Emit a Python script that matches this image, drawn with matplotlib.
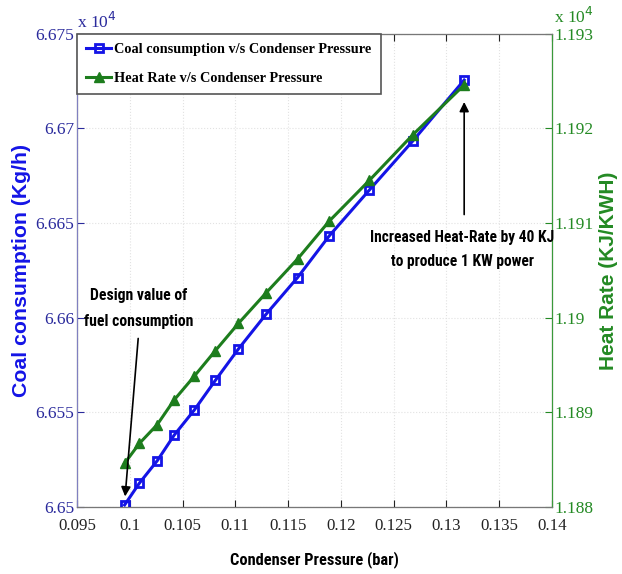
import numpy as np
import matplotlib
matplotlib.use("Agg")
from matplotlib import pyplot as plt
from matplotlib.ticker import FixedLocator, FuncFormatter

# condenser pressure (bar)
pressure = [0.0995, 0.1009, 0.1026, 0.1042, 0.1061, 0.1081, 0.1103,
            0.1129, 0.1159, 0.1189, 0.1227, 0.1268, 0.1317]
# coal consumption (kg/h)
coal = [66501, 66512.5, 66524.4, 66537.9, 66551.1, 66566.8, 66583.5,
        66601.7, 66621.2, 66643.2, 66667.4, 66693.2, 66725.6]
# heat rate (kJ/kWh)
heat_rate = [11884.6, 11886.7, 11888.7, 11891.3, 11893.8, 11896.5, 11899.4,
             11902.6, 11906.2, 11910.2, 11914.5, 11919.3, 11924.6]

x_ticks = [0.095, 0.1, 0.105, 0.11, 0.115, 0.12, 0.125, 0.13, 0.135, 0.14]
coal_ticks = [66500, 66550, 66600, 66650, 66700, 66750]
hr_ticks = [11880, 11890, 11900, 11910, 11920, 11930]

blue = "#1414e6"
green = "#1d7d1d"
tick_blue = "#2a2a9c"
tick_green = "#248a24"
serif = ["Liberation Serif", "DejaVu Serif"]
narrow = ["Roboto Condensed", "Liberation Sans Narrow", "Roboto", "DejaVu Sans"]
sans = ["Liberation Sans", "DejaVu Sans"]

plt.rcParams['xtick.direction'] = 'in'
plt.rcParams['ytick.direction'] = 'in'

fig = plt.figure(figsize=(6.22, 5.74), dpi=100)
ax1 = fig.add_axes([0.124, 0.117, 0.763, 0.824])
ax2 = ax1.twinx()

l1, = ax1.plot(pressure, coal, color=blue, lw=2.2, marker='s', ms=6,
               mfc='none', mew=2, label='Coal consumption v/s Condenser Pressure')
l2, = ax2.plot(pressure, heat_rate, color=green, lw=2.2, marker='^', ms=6.5,
               mfc=green, mec=green, label='Heat Rate v/s Condenser Pressure')

ax1.set_xlim(0.095, 0.14)
ax1.set_ylim(66500, 66750)
ax2.set_ylim(11880, 11930)

ax1.xaxis.set_major_locator(FixedLocator(x_ticks))
ax1.xaxis.set_major_formatter(FuncFormatter(lambda v, p: f"{v:g}"))
ax1.yaxis.set_major_locator(FixedLocator(coal_ticks))
ax1.yaxis.set_major_formatter(FuncFormatter(lambda v, p: f"{v / 1e4:g}"))
ax2.yaxis.set_major_locator(FixedLocator(hr_ticks))
ax2.yaxis.set_major_formatter(FuncFormatter(lambda v, p: f"{v / 1e4:g}"))

ax1.tick_params(axis='x', top=True, length=5, pad=8, labelsize=12.2, colors='#222222')
ax1.tick_params(axis='y', length=5, pad=2, labelsize=12.5, labelcolor=tick_blue, color=tick_blue)
ax2.tick_params(axis='y', length=5, pad=2, labelsize=12.5, labelcolor=tick_green, color=tick_green)
for lab in ax1.get_xticklabels() + ax1.get_yticklabels() + ax2.get_yticklabels():
    lab.set_family(serif)

ax1.grid(True, ls=':', color='#e2e2e2', lw=0.8)

for s in ['top', 'bottom']:
    ax2.spines[s].set_color('#777777')
ax2.spines['left'].set_color('#8080c0')
ax2.spines['right'].set_color('#3a9a3a')

ax1.set_xlabel('Condenser Pressure (bar)', family=narrow, fontsize=11.8,
               fontweight='bold', labelpad=12)
ax1.set_ylabel('Coal consumption (Kg/h)', family=sans, fontsize=15.3,
               fontweight='bold', color=blue, labelpad=3)
ax2.set_ylabel('Heat Rate (KJ/KWH)', family=sans, fontsize=15,
               fontweight='bold', color=tick_green, labelpad=4)

# exponent labels, matlab style
ax1.text(0.0, 1.005, r'x 10$^4$', transform=ax1.transAxes, color=tick_blue,
         family=serif, fontsize=12.5, va='bottom', ha='left')
ax2.text(1.005, 1.015, r'x 10$^4$', transform=ax2.transAxes, color=tick_green,
         family=serif, fontsize=12.5, va='bottom', ha='left')

leg = ax2.legend(handles=[l1, l2], loc='upper left', borderaxespad=0,
                 prop={'family': serif, 'size': 10.3, 'weight': 'bold'},
                 fancybox=False, edgecolor='#555555', framealpha=1,
                 handlelength=1.7, handletextpad=0.25, borderpad=0.65,
                 labelspacing=1.1)
leg.get_frame().set_linewidth(1.2)

arrow = dict(arrowstyle='-|>', color='black', lw=1.2, mutation_scale=14,
             shrinkA=0, shrinkB=0)

# design point note
ax2.text(0.1008, 11901.0, 'Design value of\nfuel consumption', ha='center',
         va='center', family=narrow, fontsize=11.3, fontweight='bold',
         linespacing=1.9)
ax2.annotate('', xy=(0.09955, 11881.1), xytext=(0.10079, 11897.8),
             arrowprops=arrow)

# heat rate increase note
ax2.text(0.1315, 11907.2, 'Increased Heat-Rate by 40 KJ\nto produce 1 KW power',
         ha='center', va='center', family=narrow, fontsize=11.2,
         fontweight='bold', linespacing=1.8)
ax2.annotate('', xy=(pressure[-1], 11922.8), xytext=(pressure[-1], 11910.9),
             arrowprops=arrow)

fig.savefig('out.png', dpi=100)
